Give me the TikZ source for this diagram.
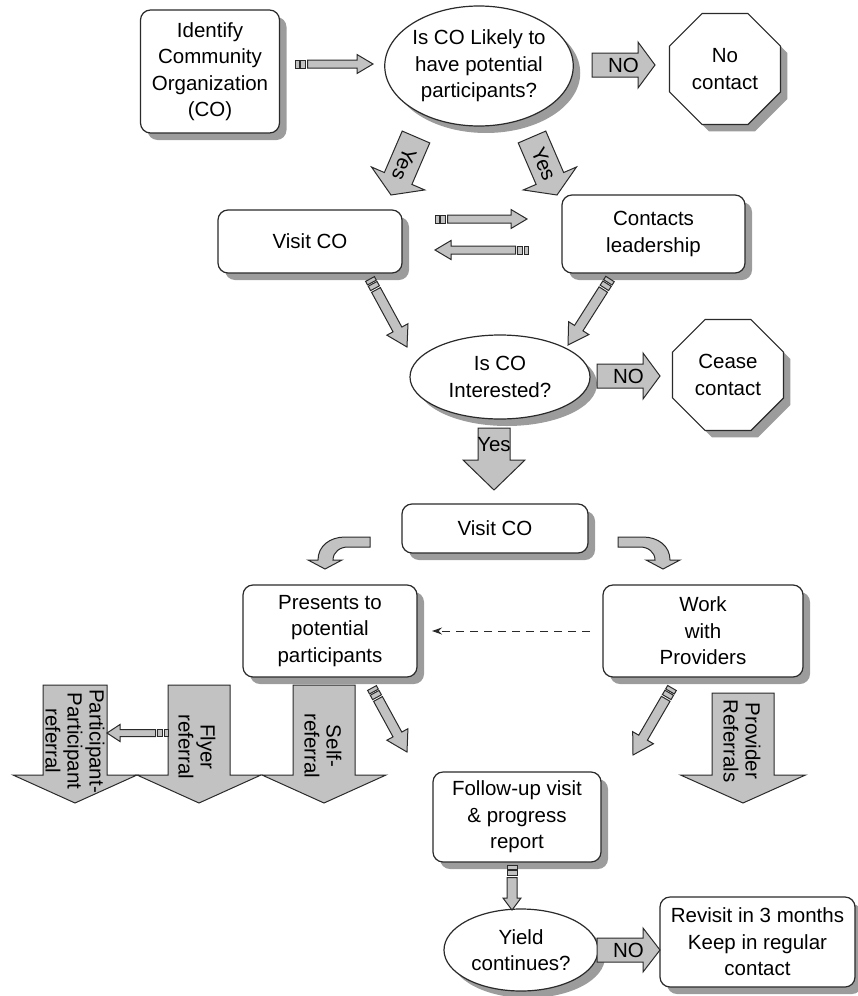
\documentclass[tikz,border=0pt]{standalone}
\usepackage{fontspec}
\setmainfont{Liberation Sans}
\usetikzlibrary{calc,shapes.geometric,shadows,arrows.meta}

\definecolor{arrowgray}{HTML}{C2C2C2}
\definecolor{shadowgray}{HTML}{9C9C9C}
\definecolor{linegray}{HTML}{2A2A2A}

\newcommand{\fsz}{\fontsize{20.5pt}{26.5pt}\selectfont}
\newcommand{\fszr}{\fontsize{20.5pt}{22pt}\selectfont}

% block arrow: tail, tip, shaft half width, head half width, head length
\newcommand{\blockarr}[5]{%
  \coordinate (ba-c) at ($(#2)!#5!(#1)$);
  \draw[arrowshape] ($(#1)!#3!90:(#2)$) -- ($(ba-c)!#3!-90:(#1)$) -- ($(ba-c)!#4!-90:(#1)$)
    -- (#2) -- ($(ba-c)!#4!90:(#1)$) -- ($(ba-c)!#3!90:(#1)$) -- ($(#1)!#3!-90:(#2)$) -- cycle;}
% one stripe segment along tail->tip
\newcommand{\segm}[5]{%
  \coordinate (sg-a) at ($(#1)!#3!(#2)$);
  \coordinate (sg-b) at ($(#1)!#4!(#2)$);
  \draw[arrowshape] ($(sg-a)!#5!90:(#2)$) -- ($(sg-b)!#5!90:(#2)$) -- ($(sg-b)!#5!-90:(#2)$) -- ($(sg-a)!#5!-90:(#2)$) -- cycle;}
% striped arrow
\newcommand{\striped}[5]{%
  \segm{#1}{#2}{0pt}{4pt}{#3}
  \segm{#1}{#2}{5.5pt}{10.5pt}{#3}
  \coordinate (st-s) at ($(#1)!12.5pt!(#2)$);
  \blockarr{st-s}{#2}{#3}{#4}{#5}}

\tikzset{
  shadowed/.style={drop shadow={shadow xshift=7pt, shadow yshift=-7pt, fill=shadowgray, opacity=1}},
  box/.style={draw=linegray, line width=1.2pt, rounded corners=10pt, fill=white, align=center,
    inner sep=0pt, font=\fsz, shadowed},
  ell/.style={ellipse, draw=linegray, line width=1.2pt, fill=white, align=center, inner sep=0pt,
    font=\fsz, shadowed},
  oct/.style={regular polygon, regular polygon sides=8, draw=linegray, line width=1.2pt, fill=white,
    align=center, inner sep=0pt, minimum size=120pt, font=\fsz, shadowed},
  arrowshape/.style={draw=linegray, line width=1pt, fill=arrowgray, line join=miter},
  lbl/.style={inner sep=0pt, font=\fsz, text=black},
  bigtxt/.style={inner sep=0pt, rotate=-90, align=center, font=\fszr, text=black},
}

\begin{document}
\begin{tikzpicture}[x=1pt, y=-1pt]
\useasboundingbox (0,0) rectangle (858,996);

% ---------- nodes ----------
\node[box, minimum width=139pt, minimum height=123pt] (ident) at (210,71.5) {Identify\\Community\\Organization\\(CO)};
\node[ell, minimum width=182pt, minimum height=120pt] (q1) at (479,66) {Is CO Likely to\\have potential\\participants?};
\node[oct] (nocontact) at (725,69) {No\\contact};
\node[box, minimum width=184pt, minimum height=63pt] (visit1) at (310,241.5) {Visit CO};
\node[box, minimum width=183pt, minimum height=78pt] (contacts) at (653.5,234) {Contacts\\leadership};
\node[ell, minimum width=180pt, minimum height=84pt] (q2) at (500,377) {Is CO\\Interested?};
\node[oct] (cease) at (728,375) {Cease\\contact};
\node[box, minimum width=186pt, minimum height=49pt] (visit2) at (495,528.5) {Visit CO};
\node[box, minimum width=174pt, minimum height=92pt] (presents) at (330,631) {Presents to\\potential\\participants};
\node[box, minimum width=200pt, minimum height=92pt] (work) at (703,631) {Work\\with\\Providers};
\node[box, minimum width=168pt, minimum height=90pt] (follow) at (517,817) {Follow-up visit\\\& progress\\report};
\node[ell, minimum width=154pt, minimum height=82pt] (q3) at (521,950) {Yield\\continues?};
\node[box, minimum width=195pt, minimum height=90pt] (revisit) at (757.5,942) {Revisit in 3 months\\Keep in regular\\contact};

% ---------- striped small arrows ----------
\coordinate (a1s) at (295,64);  \coordinate (a1e) at (373,64);
\striped{a1s}{a1e}{4pt}{9.5pt}{16pt}
\coordinate (a2s) at (435,219); \coordinate (a2e) at (527,219);
\striped{a2s}{a2e}{4pt}{9.5pt}{16pt}
\coordinate (a3s) at (528,250); \coordinate (a3e) at (435,250);
\striped{a3s}{a3e}{4pt}{9.5pt}{16pt}
\coordinate (a4s) at (168,733); \coordinate (a4e) at (107,733);
\coordinate (a5s) at (512,865); \coordinate (a5e) at (512,910);
\striped{a5s}{a5e}{5pt}{9pt}{12pt}

% ---------- pencil arrows ----------
\coordinate (p1s) at (370,279); \coordinate (p1e) at (407,347);
\striped{p1s}{p1e}{5pt}{12pt}{20pt}
\coordinate (p2s) at (610,279); \coordinate (p2e) at (568,345);
\striped{p2s}{p2e}{5pt}{12pt}{20pt}
\coordinate (p3s) at (372,688); \coordinate (p3e) at (407,752);
\striped{p3s}{p3e}{5pt}{12pt}{20pt}
\coordinate (p4s) at (672,688); \coordinate (p4e) at (633,755);
\striped{p4s}{p4e}{5pt}{12pt}{20pt}

% ---------- Yes arrows ----------
\coordinate (y1s) at (416,137); \coordinate (y1e) at (391,195);
\blockarr{y1s}{y1e}{15pt}{29pt}{18pt}
\path (y1s) -- node[lbl, sloped, allow upside down, pos=0.47] (yes1) {Yes} (y1e);
\coordinate (y2s) at (532,137); \coordinate (y2e) at (557,195);
\blockarr{y2s}{y2e}{15pt}{29pt}{18pt}
\path (y2s) -- node[lbl, sloped, allow upside down, pos=0.47] (yes2) {Yes} (y2e);
\coordinate (y3s) at (494,428); \coordinate (y3e) at (494,490);
\blockarr{y3s}{y3e}{16pt}{31pt}{30pt}
\node[lbl] (yes3) at (494,445) {Yes};

% ---------- NO arrows ----------
\coordinate (n1s) at (592,65); \coordinate (n1e) at (655,65);
\blockarr{n1s}{n1e}{12pt}{23pt}{17pt}
\node[lbl] (no1) at ($(n1s)!0.5!(n1e)$) {NO};
\coordinate (n2s) at (597,376); \coordinate (n2e) at (660,376);
\blockarr{n2s}{n2e}{12pt}{23pt}{17pt}
\node[lbl] (no2) at ($(n2s)!0.5!(n2e)$) {NO};
\coordinate (n3s) at (597,950); \coordinate (n3e) at (660,950);
\blockarr{n3s}{n3e}{12pt}{22pt}{17pt}
\node[lbl] (no3) at ($(n3s)!0.5!(n3e)$) {NO};

% ---------- curved arrows ----------
\draw[arrowshape] (370,537) -- (345,537) .. controls (330,537) and (318,546) .. (318,560)
  -- (308,560) -- (325,569) -- (342,560) -- (333,560) .. controls (333,552) and (340,547) .. (348,547)
  -- (370,547) -- cycle;
\draw[arrowshape] (618,537) -- (643,537) .. controls (658,537) and (670,546) .. (670,560)
  -- (680,560) -- (663,569) -- (646,560) -- (655,560) .. controls (655,552) and (648,547) .. (640,547)
  -- (618,547) -- cycle;

% ---------- dashed arrow ----------
\coordinate (ds) at (590,631); \coordinate (de) at (432,631);
\draw[linegray, line width=1pt, dash pattern=on 8pt off 6pt, -{Stealth[length=10pt,width=7pt]}] (ds) -- (de);

% ---------- big referral arrows ----------
\coordinate (b1s) at (75,685);  \coordinate (b1e) at (75,803);
\blockarr{b1s}{b1e}{32pt}{62pt}{28pt}
\coordinate (b2s) at (199,685); \coordinate (b2e) at (199,803);
\blockarr{b2s}{b2e}{31pt}{62pt}{28pt}
\coordinate (b3s) at (324,685); \coordinate (b3e) at (324,803);
\blockarr{b3s}{b3e}{31pt}{62pt}{28pt}
\coordinate (b4s) at (743,693); \coordinate (b4e) at (743,803);
\blockarr{b4s}{b4e}{31pt}{62.5pt}{28pt}
\striped{a4s}{a4e}{3.5pt}{8.5pt}{13pt}

\node[bigtxt] (t1) at (75,741) {Participant-\\Participant\\referral};
\node[bigtxt] (t2) at (197,747) {Flyer\\referral};
\node[bigtxt] (t3) at (323,746) {Self-\\referral};
\node[bigtxt] (t4) at (742,741) {Provider\\Referrals};
\end{tikzpicture}
\end{document}
